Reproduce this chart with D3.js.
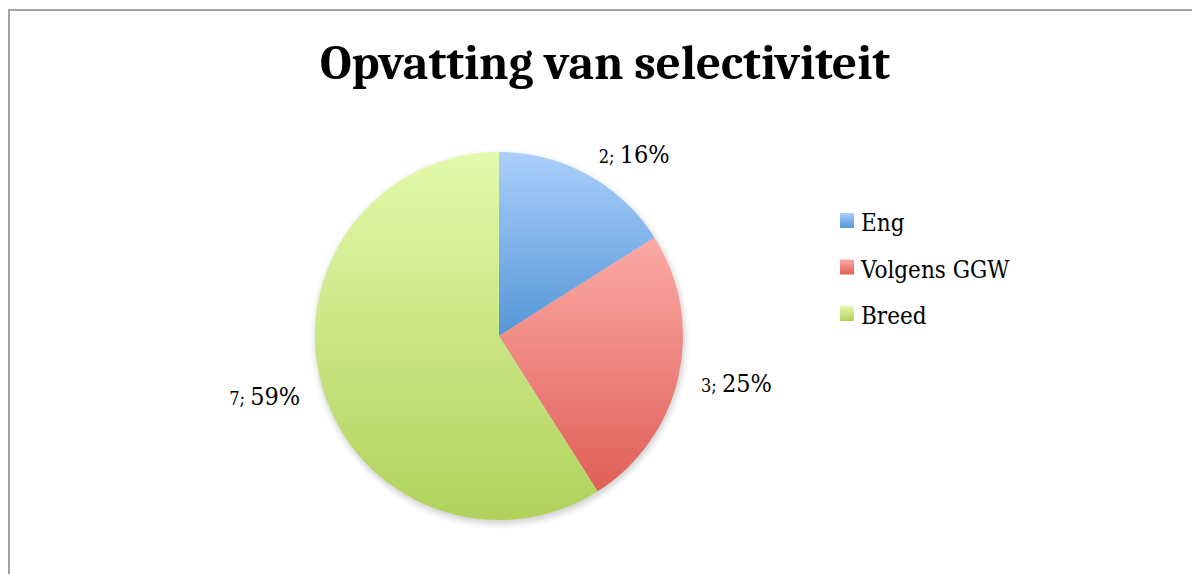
<!DOCTYPE html>
<html lang="nl">
<head>
  <meta charset="UTF-8" />
  <title>Opvatting van selectiviteit</title>
  <script src="https://cdnjs.cloudflare.com/ajax/libs/d3/7.8.2/d3.min.js"></script>
  <style>
    body { margin: 0; padding: 0; background: #fff; }
    svg { display: block; }
    text { font-family: Cambria, Caladea, "Liberation Serif", "DejaVu Serif", serif; fill: #000; }
    text.small { font-family: "DejaVu Serif Condensed", "DejaVu Serif", serif; }
  </style>
</head>
<body>
<svg id="chart"></svg>
<script>
// data
const categories = ["Eng", "Volgens GGW", "Breed"];
const counts = [2, 3, 7];
const percents = [16, 25, 59];
const topColors = ["#abcffd", "#fcaaa6", "#e2faab"];
const bottomColors = ["#5596d6", "#df5f57", "#b0d25c"];

const width = 1192, height = 574;
const svg = d3.select("#chart").attr("width", width).attr("height", height);

// outer frame (runs off right and bottom)
svg.append("rect")
  .attr("x", 9).attr("y", 10)
  .attr("width", 1200).attr("height", 600)
  .attr("fill", "#fff")
  .attr("stroke", "#a3a3a3")
  .attr("stroke-width", 2);

// title
svg.append("text")
  .attr("x", 605).attr("y", 79)
  .attr("text-anchor", "middle")
  .attr("font-size", 49)
  .attr("font-weight", "bold")
  .attr("textLength", 570)
  .attr("lengthAdjust", "spacingAndGlyphs")
  .text("Opvatting van selectiviteit");

const defs = svg.append("defs");
categories.forEach((c, i) => {
  const g = defs.append("linearGradient")
    .attr("id", "grad" + i)
    .attr("x1", 0).attr("y1", 0).attr("x2", 0).attr("y2", 1);
  g.append("stop").attr("offset", "0%").attr("stop-color", topColors[i]);
  g.append("stop").attr("offset", "100%").attr("stop-color", bottomColors[i]);
});
const shadow = defs.append("filter").attr("id", "shadow")
  .attr("x", "-10%").attr("y", "-10%").attr("width", "120%").attr("height", "120%");
shadow.append("feGaussianBlur").attr("stdDeviation", 3);

const cx = 499, cy = 336, R = 184;
const pie = d3.pie().sort(null).value(d => d)(percents);
const arc = d3.arc().innerRadius(0).outerRadius(R);
const labelR = R + 23;

const g = svg.append("g").attr("transform", `translate(${cx},${cy})`);

g.append("circle")
  .attr("cx", 1).attr("cy", 3).attr("r", R + 1)
  .attr("fill", "#000").attr("opacity", 0.18)
  .attr("filter", "url(#shadow)");

g.selectAll("path.slice")
  .data(pie)
  .join("path")
  .attr("class", "slice")
  .attr("d", arc)
  .attr("fill", (d, i) => `url(#grad${i})`);

// data labels "n; p%", placed just outside the slice
const labels = g.selectAll("text.lbl")
  .data(pie)
  .join("text")
  .attr("class", "lbl small")
  .attr("text-anchor", d => {
    const a = (d.startAngle + d.endAngle) / 2;
    return Math.sin(a) >= 0 ? "start" : "end";
  })
  .attr("transform", d => {
    const a = (d.startAngle + d.endAngle) / 2;
    const x = Math.sin(a) * labelR;
    const up = Math.cos(a);
    const y = -up * labelR + 11 - 3 * Math.max(0, up);
    return `translate(${x},${y})`;
  });
labels.append("tspan").attr("font-size", 18).text((d, i) => counts[i] + "; ");
labels.append("tspan").attr("font-size", 25).text((d, i) => percents[i] + "%");

// legend
const legend = svg.append("g").attr("transform", "translate(840,213)");
const rows = legend.selectAll("g")
  .data(categories)
  .join("g")
  .attr("transform", (d, i) => `translate(0,${i * 46.5})`);
rows.append("rect")
  .attr("width", 14).attr("height", 15)
  .attr("fill", (d, i) => `url(#grad${i})`);
rows.append("text")
  .attr("class", "small")
  .attr("x", 21).attr("y", 18)
  .attr("font-size", 24)
  .text(d => d);
</script>
</body>
</html>
